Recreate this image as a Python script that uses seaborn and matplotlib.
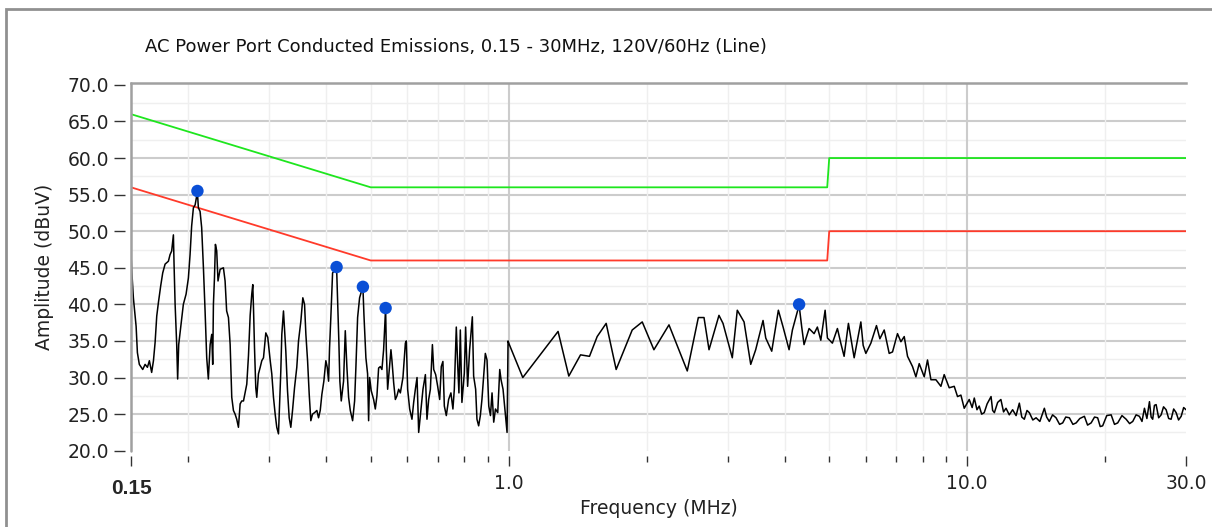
import pandas as pd
import matplotlib
matplotlib.use("Agg")
import matplotlib.pyplot as plt
import matplotlib.ticker as mticker
import seaborn as sns

# measured trace (MHz, dBuV)
freq = [0.150, 0.1505, 0.1518, 0.1539, 0.1549, 0.1564, 0.1591, 0.1610, 0.1629, 0.1645,
        0.1664, 0.1679, 0.1693, 0.1707, 0.1721, 0.1741, 0.1759, 0.1780, 0.1810, 0.1825,
        0.1840, 0.1856, 0.1862, 0.1872, 0.1887, 0.1896, 0.1906, 0.1925, 0.1951, 0.1978,
        0.2001, 0.2018, 0.2034, 0.2052, 0.2070, 0.2086, 0.2094, 0.2104, 0.2122, 0.2139,
        0.2158, 0.2176, 0.2194, 0.2212, 0.2232, 0.2250, 0.2261, 0.2269, 0.2281, 0.2292,
        0.2307, 0.2322, 0.2347, 0.2386, 0.2406, 0.2425, 0.2447, 0.2468, 0.2488, 0.2509,
        0.2530, 0.2551, 0.2573, 0.2595, 0.2616, 0.2639, 0.2683, 0.2706, 0.2729, 0.2751,
        0.2765, 0.2775, 0.2789, 0.2807, 0.2821, 0.2845, 0.2870, 0.2893, 0.2918, 0.2952,
        0.2981, 0.3018, 0.3042, 0.3068, 0.3094, 0.3119, 0.3146, 0.3162, 0.3183, 0.3199,
        0.3226, 0.3242, 0.3264, 0.3292, 0.3320, 0.3347, 0.3376, 0.3410, 0.3449, 0.3479,
        0.3520, 0.3555, 0.3586, 0.3610, 0.3641, 0.3671, 0.3701, 0.3733, 0.3771, 0.3815,
        0.3847, 0.3880, 0.3912, 0.3951, 0.3991, 0.4019, 0.4046, 0.4066, 0.4092, 0.4128,
        0.4169, 0.4212, 0.4239, 0.4260, 0.4282, 0.4312, 0.4362, 0.4400, 0.4436, 0.4474,
        0.4512, 0.4565, 0.4611, 0.4641, 0.4681, 0.4728, 0.4783, 0.4807, 0.4832, 0.4856,
        0.4880, 0.4922, 0.4947, 0.4972, 0.5012, 0.5073, 0.5116, 0.5158, 0.5202, 0.5247,
        0.5289, 0.5334, 0.5388, 0.5407, 0.5443, 0.5489, 0.5534, 0.5561, 0.5610, 0.5658,
        0.5704, 0.5753, 0.5802, 0.5878, 0.5950, 0.5979, 0.6018, 0.6080, 0.6150, 0.6203,
        0.6256, 0.6309, 0.6361, 0.6415, 0.6500, 0.6579, 0.6632, 0.6689, 0.6746, 0.6815,
        0.6860, 0.6928, 0.6998, 0.7069, 0.7126, 0.7184, 0.7236, 0.7308, 0.7393, 0.7479,
        0.7555, 0.7608, 0.7684, 0.7735, 0.7786, 0.7841, 0.7904, 0.8000, 0.8053, 0.8134,
        0.8216, 0.8329, 0.8383, 0.8468, 0.8524, 0.8597, 0.8670, 0.8740, 0.8814, 0.8890,
        0.8966, 0.9045, 0.9122, 0.9195, 0.9273, 0.9354, 0.9462, 0.9558, 0.9620, 0.9717,
        0.9835, 0.9915, 0.9965,
        1.000, 1.073, 1.281, 1.352, 1.434, 1.500, 1.559, 1.631, 1.715, 1.859,
        1.955, 2.073, 2.236, 2.451, 2.591, 2.666, 2.734, 2.874, 2.933, 3.073,
        3.151, 3.260, 3.371, 3.456, 3.586, 3.635, 3.746, 3.873, 3.966, 4.087,
        4.156, 4.298, 4.355, 4.406, 4.519, 4.634, 4.711, 4.793, 4.898, 4.955,
        5.080, 5.210, 5.299, 5.388, 5.506, 5.667, 5.861, 5.929, 6.010, 6.163,
        6.339, 6.448, 6.590, 6.757, 6.871, 7.045, 7.166, 7.287, 7.409, 7.597,
        7.727, 7.857, 8.057, 8.191, 8.333, 8.544, 8.761, 8.907, 9.134, 9.367,
        9.524, 9.687, 9.849,
        10.10, 10.25, 10.36, 10.50, 10.62, 10.75, 10.89, 11.05, 11.27, 11.36,
        11.46, 11.65, 11.84, 12.00, 12.15, 12.35, 12.56, 12.78, 12.99, 13.15,
        13.32, 13.50, 13.66, 13.90, 14.13, 14.40, 14.73, 14.90, 15.10, 15.35,
        15.62, 15.90, 16.15, 16.40, 16.70, 17.00, 17.28, 17.60, 18.01, 18.30,
        18.63, 18.95, 19.25, 19.50, 19.74, 20.15, 20.60, 20.95, 21.29, 21.75,
        22.21, 22.60, 22.96, 23.35, 23.74, 24.05, 24.35, 24.65, 24.97, 25.18,
        25.38, 25.60, 25.82, 26.15, 26.48, 26.80, 27.15, 27.50, 27.84, 28.20,
        28.55, 28.90, 29.28, 29.65, 30.0]
amplitude = [47.0, 44.8, 40.9, 37.0, 33.4, 31.8, 31.1, 31.8, 31.4, 32.3,
             30.7, 32.3, 34.8, 38.4, 40.2, 42.5, 44.3, 45.5, 45.9, 46.8,
             47.3, 49.5, 45.5, 40.0, 34.5, 29.8, 34.5, 36.8, 40.0, 41.4,
             43.6, 46.8, 50.7, 53.2, 53.6, 54.8, 55.3, 53.2, 52.7, 50.5,
             45.0, 39.1, 32.7, 29.8, 34.5, 35.9, 31.8, 40.0, 43.6, 48.2,
             47.3, 43.2, 44.8, 45.0, 43.2, 39.1, 38.2, 34.5, 27.3, 25.5,
             25.0, 24.3, 23.2, 26.4, 26.8, 26.8, 29.1, 33.0, 38.5, 41.4,
             42.7, 39.5, 34.1, 28.6, 27.3, 30.5, 31.4, 32.3, 32.7, 36.1,
             35.5, 32.3, 30.5, 27.3, 25.0, 23.2, 22.3, 25.9, 30.9, 35.9,
             39.1, 36.8, 33.6, 28.2, 24.5, 23.2, 25.5, 28.6, 31.4, 35.0,
             37.7, 40.9, 40.0, 35.9, 32.3, 27.7, 24.1, 25.0, 25.2, 25.5,
             24.5, 25.5, 27.7, 29.5, 32.3, 31.4, 29.5, 34.1, 38.2, 44.3,
             44.6, 45.1, 39.5, 35.0, 29.5, 26.8, 29.5, 36.4, 31.4, 27.3,
             25.5, 24.1, 26.8, 31.4, 38.2, 40.9, 42.0, 42.4, 38.6, 35.5,
             32.7, 30.5, 24.1, 30.0, 28.2, 27.0, 25.7, 27.5, 31.3, 31.5,
             31.1, 33.8, 39.5, 33.8, 28.4, 31.1, 33.8, 32.4, 29.3, 27.0,
             27.5, 28.4, 27.9, 30.0, 34.7, 35.0, 28.4, 25.7, 24.3, 26.6,
             28.4, 30.0, 22.5, 24.8, 28.4, 30.4, 24.3, 27.0, 28.4, 34.5,
             31.1, 30.4, 28.8, 27.0, 31.5, 32.2, 26.1, 24.8, 27.0, 27.9,
             25.7, 28.4, 36.9, 32.0, 27.9, 36.5, 26.6, 30.6, 36.9, 28.8,
             33.8, 38.3, 30.2, 28.4, 24.3, 23.4, 24.8, 27.0, 30.2, 33.3,
             32.4, 26.1, 24.8, 27.9, 23.9, 25.7, 25.2, 31.1, 29.7, 28.4,
             24.8, 22.5, 35.0,
             34.7, 30.0, 36.3, 30.2, 33.1, 32.9, 35.6, 37.4, 31.1, 36.5,
             37.6, 33.8, 37.2, 30.9, 38.2, 38.2, 33.8, 38.5, 37.4, 32.7,
             39.2, 37.6, 31.8, 33.8, 37.8, 35.4, 33.6, 39.2, 36.9, 33.8,
             36.5, 39.9, 36.9, 34.5, 36.7, 36.0, 36.9, 35.1, 39.2, 35.4,
             34.7, 36.7, 34.7, 32.9, 37.4, 32.7, 37.6, 34.4, 33.3, 34.7,
             37.1, 35.3, 36.5, 33.3, 33.5, 36.0, 34.9, 35.6, 32.9, 31.5,
             30.1, 31.9, 30.1, 32.4, 29.7, 29.7, 28.8, 30.4, 28.6, 28.8,
             27.4, 27.6, 25.8,
             27.0, 25.9, 27.2, 25.6, 26.1, 25.0, 25.2, 26.4, 27.4, 25.5,
             25.2, 26.6, 27.0, 25.3, 25.8, 24.9, 25.6, 24.8, 26.5, 24.6,
             24.3, 25.5, 25.2, 24.2, 24.5, 24.0, 25.8, 24.6, 24.0, 24.9,
             24.5, 23.6, 23.8, 24.6, 24.5, 23.6, 23.8, 24.4, 24.7, 23.5,
             23.8, 24.6, 24.5, 23.3, 23.4, 24.8, 24.9, 23.6, 23.8, 24.8,
             24.3, 23.7, 24.0, 24.9, 24.7, 24.0, 25.8, 24.4, 26.7, 24.6,
             24.3, 26.2, 26.3, 24.5, 24.9, 26.0, 25.6, 24.4, 24.3, 25.7,
             25.2, 24.2, 24.7, 25.9, 25.6]

# limit lines
limit_freq = [0.15, 0.5, 4.95, 5.0, 30.0]
qp_limit = [66.0, 56.0, 56.0, 60.0, 60.0]
avg_limit = [56.0, 46.0, 46.0, 50.0, 50.0]

# marked peaks
peak_freq = [0.2094, 0.4212, 0.4807, 0.5388, 4.298]
peak_amp = [55.5, 45.1, 42.4, 39.5, 40.0]

sns.set_style("white")
plt.rcParams["font.family"] = ["DejaVu Sans"]

W, H = 1212, 527
fig = plt.figure(figsize=(W / 100, H / 100), dpi=100)
ax = fig.add_axes([131 / W, 1 - 450.7 / H, (1186 - 131) / W, (450.7 - 82.7) / H])

# grid
for v in [22.5, 27.5, 32.5, 37.5, 42.5, 47.5, 52.5, 57.5, 62.5, 67.5]:
    ax.axhline(v, color="#efefef", lw=1.0, zorder=0)
for v in [25, 30, 35, 40, 45, 50, 55, 60, 65]:
    ax.axhline(v, color="#cccccc", lw=1.5, zorder=0)
minor_x = [0.2, 0.3, 0.4, 0.5, 0.6, 0.7, 0.8, 0.9, 2, 3, 4, 5, 6, 7, 8, 9, 20]
for v in minor_x:
    ax.axvline(v, color="#efefef", lw=1.0, zorder=0)
for v in [1, 10]:
    ax.axvline(v, color="#cccccc", lw=1.5, zorder=0)

lim = pd.DataFrame({"freq": limit_freq, "qp": qp_limit, "avg": avg_limit})
sns.lineplot(data=lim, x="freq", y="qp", color="#1ee61e", lw=1.3, ax=ax,
             sort=False, estimator=None, zorder=2)
sns.lineplot(data=lim, x="freq", y="avg", color="#ff3a2a", lw=1.3, ax=ax,
             sort=False, estimator=None, zorder=2)

trace = pd.DataFrame({"freq": freq, "amp": amplitude})
sns.lineplot(data=trace, x="freq", y="amp", color="black", lw=1.1, ax=ax,
             sort=False, estimator=None, zorder=3)

peaks = pd.DataFrame({"freq": peak_freq, "amp": peak_amp})
sns.scatterplot(data=peaks, x="freq", y="amp", color="#0a4fd6", s=80,
                edgecolor="none", ax=ax, zorder=4)

ax.set_xscale("log")
ax.set_xlim(0.15, 30)
ax.set_ylim(20, 70.3)

ax.xaxis.set_major_locator(mticker.FixedLocator([0.15, 1, 10, 30]))
ax.xaxis.set_major_formatter(mticker.FixedFormatter(["", "1.0", "10.0", "30.0"]))
ax.xaxis.set_minor_locator(mticker.FixedLocator(minor_x))
ax.xaxis.set_minor_formatter(mticker.NullFormatter())
ax.yaxis.set_major_locator(mticker.MultipleLocator(5))
ax.yaxis.set_major_formatter(mticker.FormatStrFormatter("%.1f"))

ax.tick_params(axis="x", which="major", bottom=True, length=7, width=1,
               color="#333333", pad=6, labelsize=13.5, labelcolor="#222222")
ax.tick_params(axis="x", which="minor", bottom=True, length=4, width=1, color="#333333")
ax.tick_params(axis="y", which="major", left=True, length=8, width=1,
               color="#333333", pad=4, labelsize=13.5, labelcolor="#222222")

for side in ["right", "bottom", "left"]:
    ax.spines[side].set_visible(False)
ax.spines["bottom"].set_position(("outward", 4))
ax.spines["left"].set_position(("outward", 4))
ax.spines["top"].set_color("#a0a0a0")
ax.spines["top"].set_linewidth(1.8)
ax.axvline(0.15, color="#a0a0a0", lw=1.8, zorder=5, clip_on=False)

ax.set_xlabel("Frequency (MHz)", fontsize=13.5, color="#222222")
ax.xaxis.label.set_va("center")
ax.xaxis.set_label_coords(0.5, -(508 - 450.7) / 368)
ax.set_ylabel("Amplitude (dBuV)", fontsize=13.5, color="#222222")
ax.yaxis.label.set_va("center")
ax.yaxis.set_label_coords(-(131 - 45) / 1055, 0.5)

ax.text(0.15, -(489 - 450.7) / 368, "0.15", transform=ax.get_xaxis_transform(),
        ha="center", va="center", fontsize=15, fontweight="bold",
        family=["Liberation Sans", "DejaVu Sans"])

fig.text(145 / W, 1 - 47 / H,
         "AC Power Port Conducted Emissions, 0.15 - 30MHz, 120V/60Hz (Line)",
         ha="left", va="center", fontsize=13, color="#111111")

# outer frame
fig.add_artist(plt.Rectangle((6 / W, -0.1), 1.2, 1.1 - 9 / H, transform=fig.transFigure,
                             fill=False, ec="#909090", lw=2))

fig.savefig("out.png", dpi=100, facecolor="white")
